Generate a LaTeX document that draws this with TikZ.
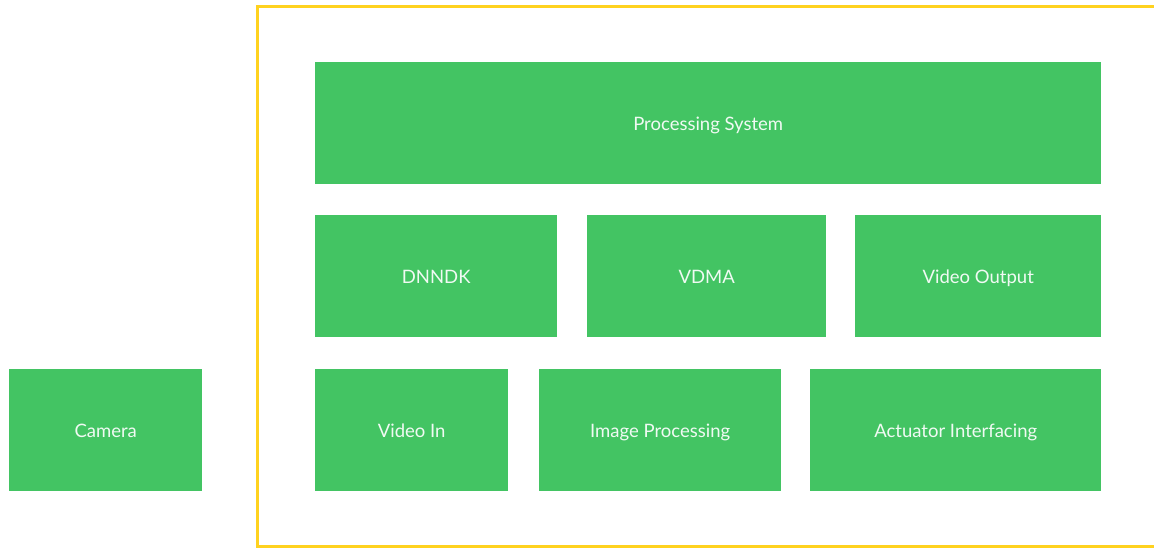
\documentclass[tikz,border=0pt]{standalone}
\usepackage{fontspec}
\setmainfont{Lato}
\definecolor{blockgreen}{HTML}{43C463}
\definecolor{frameyellow}{HTML}{FFD21F}
\begin{document}
\begin{tikzpicture}[x=1pt, y=-1pt,
  block/.style={fill=blockgreen, draw=none, anchor=north west, inner sep=0pt,
    text height=17pt, text depth=3pt,
    text=white!92!blockgreen, font=\fontsize{18.5}{22}\selectfont}]

\def\yt{62}; % top row
\def\ym{215}; % middle row
\def\yb{369}; % bottom row
\def\h{122};

\useasboundingbox (0,0) rectangle (1154,547);

% board outline, open to the right
\draw[frameyellow, line width=3pt] (1170,6) -- (257,6) -- (257,546) -- (1170,546);

\node[block, minimum width=786, minimum height=\h] (ps) at (315,\yt) {Processing System};

\node[block, minimum width=242, minimum height=\h] (dnndk) at (315,\ym) {DNNDK};
\node[block, minimum width=239, minimum height=\h] (vdma) at (587,\ym) {VDMA};
\node[block, minimum width=246, minimum height=\h] (vout) at (855,\ym) {Video Output};

\node[block, minimum width=193, minimum height=\h] (vin) at (315,\yb) {Video In};
\node[block, minimum width=242, minimum height=\h] (improc) at (539,\yb) {Image Processing};
\node[block, minimum width=291, minimum height=\h] (act) at (810,\yb) {Actuator Interfacing};

\node[block, minimum width=193, minimum height=\h] (cam) at (9,\yb) {Camera};

\end{tikzpicture}
\end{document}
